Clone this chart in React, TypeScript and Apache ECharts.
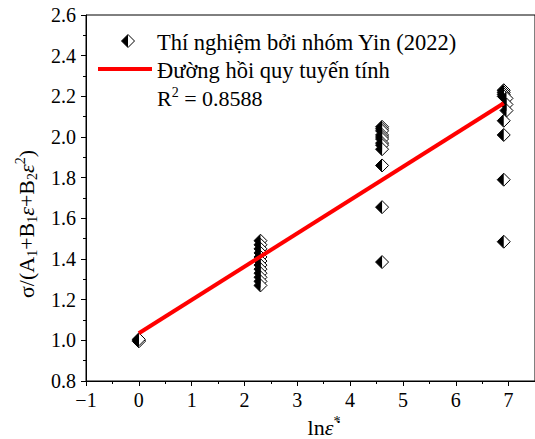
import React, { useEffect, useRef } from "react";
import * as echarts from "echarts";

// Experimental data (x = ln of normalized strain rate, y = normalized stress)
const expX: number[] = [
  0, 0, 0,
  2.303, 2.303, 2.303, 2.303, 2.303, 2.303, 2.303, 2.303, 2.303, 2.303, 2.303, 2.303,
  4.605, 4.605, 4.605, 4.605, 4.605, 4.605, 4.605, 4.605, 4.605, 4.605, 4.605, 4.605,
  6.908, 6.908, 6.908, 6.908, 6.96, 6.96, 6.96, 6.908, 6.908, 6.908, 6.908,
];
const expY: number[] = [
  1.0, 0.995, 1.005,
  1.49, 1.47, 1.45, 1.43, 1.41, 1.39, 1.37, 1.35, 1.33, 1.31, 1.29, 1.27,
  2.05, 2.04, 2.03, 2.01, 2.0, 1.99, 1.97, 1.96, 1.94, 1.86, 1.655, 1.385,
  2.23, 2.22, 2.21, 2.2, 2.19, 2.16, 2.13, 2.08, 2.01, 1.79, 1.485,
];

// Linear regression line end points
const fitX: number[] = [0, 6.908];
const fitY: number[] = [1.035, 2.166];

const legendLabels: string[] = [
  "Thí nghiệm bởi nhóm Yin (2022)",
  "Đường hồi quy tuyến tính",
];
const r2Value = "0.8588";

const FONT = "'Liberation Serif', 'Times New Roman', serif";

export default function App() {
  const ref = useRef<HTMLDivElement>(null);

  useEffect(() => {
    if (!ref.current) return;
    const chart = echarts.init(ref.current, undefined, { renderer: "svg" });
    const pts = expX.map((x, i) => [x, expY[i]]);
    const fit = fitX.map((x, i) => [x, fitY[i]]);

    const rich = {
      n: { fontSize: 22, fontFamily: FONT, color: "#000", lineHeight: 26 },
      i: { fontSize: 22, fontFamily: FONT, fontStyle: "italic", color: "#000", lineHeight: 26 },
      sub: { fontSize: 14, fontFamily: FONT, color: "#000", lineHeight: 14, verticalAlign: "bottom" },
      sup: { fontSize: 14, fontFamily: FONT, color: "#000", lineHeight: 14, verticalAlign: "top" },
    };

    chart.setOption({
      animation: false,
      grid: {
        left: 86,
        right: -4,
        top: 15,
        bottom: 58,
        show: true,
        borderColor: "#000",
        borderWidth: 1,
        backgroundColor: "transparent",
      },
      xAxis: {
        type: "value",
        min: -1,
        max: 7.5,
        interval: 1,
        splitNumber: 2,
        axisLine: { show: true, onZero: false, lineStyle: { color: "#000", width: 1 } },
        axisTick: { show: true, inside: false, length: 5, lineStyle: { color: "#000" } },
        minorTick: { show: true, splitNumber: 2, length: 3, lineStyle: { color: "#000" } },
        splitLine: { show: false },
        axisLabel: {
          color: "#000",
          fontFamily: FONT,
          fontSize: 20,
          margin: 9,
          showMaxLabel: false,
          formatter: (v: number) =>
            Number.isInteger(v) ? (v < 0 ? "\u2212" + Math.abs(v) : String(v)) : "",
        },
      },
      yAxis: {
        type: "value",
        min: 0.8,
        max: 2.6,
        interval: 0.2,
        axisLine: { show: true, onZero: false, lineStyle: { color: "#000", width: 1 } },
        axisTick: { show: true, inside: false, length: 5, lineStyle: { color: "#000" } },
        minorTick: { show: true, splitNumber: 2, length: 3, lineStyle: { color: "#000" } },
        splitLine: { show: false },
        axisLabel: {
          color: "#000",
          fontFamily: FONT,
          fontSize: 20,
          margin: 10,
          formatter: (v: number) => v.toFixed(1),
        },
      },
      series: [
        {
          name: legendLabels[0],
          type: "scatter",
          data: pts,
          symbol: "diamond",
          symbolSize: 13,
          itemStyle: { color: "#fff", borderColor: "#000", borderWidth: 1, opacity: 1 },
          z: 2,
        },
        {
          name: legendLabels[0] + " (half)",
          type: "scatter",
          data: pts,
          symbol: "path://M1,0 L0,1 L1,2 Z",
          symbolSize: [6.5, 13],
          symbolOffset: [-3.25, 0],
          itemStyle: { color: "#000", opacity: 1 },
          z: 3,
        },
        {
          name: legendLabels[1],
          type: "line",
          data: fit,
          showSymbol: false,
          symbol: "none",
          lineStyle: { color: "#ff0000", width: 4 },
          z: 4,
        },
      ],
      graphic: [
        // legend marker
        {
          type: "polygon",
          shape: { points: [[121.5, 41], [128, 34.5], [134.5, 41], [128, 47.5]] },
          style: { fill: "#fff", stroke: "#000", lineWidth: 1 },
          z: 10,
        },
        {
          type: "polygon",
          shape: { points: [[121.5, 41], [128, 34.5], [128, 47.5]] },
          style: { fill: "#000" },
          z: 11,
        },
        {
          type: "text",
          x: 157,
          y: 42,
          style: { text: legendLabels[0], font: `22.5px ${FONT}`, fill: "#000", verticalAlign: "middle" },
          z: 10,
        },
        {
          type: "line",
          shape: { x1: 98, y1: 69, x2: 152, y2: 69 },
          style: { stroke: "#ff0000", lineWidth: 4 },
          z: 10,
        },
        {
          type: "text",
          x: 157,
          y: 70,
          style: { text: legendLabels[1], font: `22.5px ${FONT}`, fill: "#000", verticalAlign: "middle" },
          z: 10,
        },
        {
          type: "text",
          x: 157,
          y: 98,
          style: {
            text: "{n|R}{sup|2}{n| = " + r2Value + "}",
            rich,
            verticalAlign: "middle",
          },
          z: 10,
        },
        // y axis name
        {
          type: "text",
          x: 26,
          y: 224,
          rotation: Math.PI / 2,
          style: {
            text: "{n|σ/(A}{sub|1}{n|+B}{sub|1}{i|ε}{n|+B}{sub|2}{i|ε}{sup|2}{n|)}",
            rich,
            align: "center",
            verticalAlign: "middle",
          },
          z: 10,
        },
        // x axis name
        {
          type: "text",
          x: 324,
          y: 427,
          style: {
            text: "{n|ln}{i|ε\u0307}{sup|*}",
            rich,
            align: "center",
            verticalAlign: "middle",
          },
          z: 10,
        },
      ],
    });
    return () => chart.dispose();
  }, []);

  return (
    <div
      ref={ref}
      style={{ position: "fixed", left: 0, top: 0, width: 535, height: 439, background: "#fff" }}
    />
  );
}
